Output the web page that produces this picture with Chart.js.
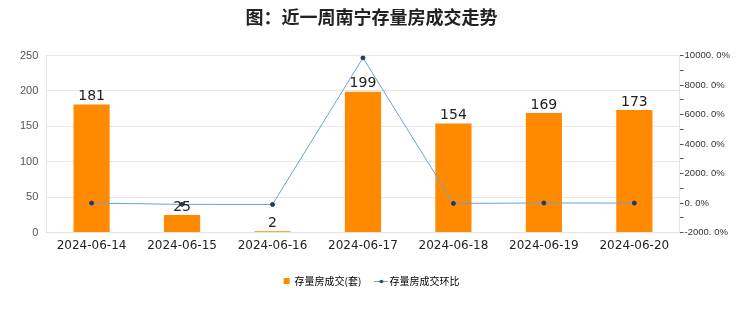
<!DOCTYPE html>
<html>
<head>
<meta charset="utf-8">
<script src="https://cdn.jsdelivr.net/npm/chart.js@4.4.0/dist/chart.umd.min.js"></script>
<style>
  html, body { margin: 0; padding: 0; background: #fff; }
  #wrap { width: 740px; height: 312px; }
</style>
</head>
<body>
<div id="wrap"><canvas id="c" width="740" height="312"></canvas></div>
<script>
const dates = ['2024-06-14', '2024-06-15', '2024-06-16', '2024-06-17', '2024-06-18', '2024-06-19', '2024-06-20'];
const deals = [181, 25, 2, 199, 154, 169, 173];
// 环比, percent
const ratio = [3, -86.2, -92, 9850, -22.6, 9.7, 2.4];

const barLabels = {
    id: 'barLabels',
    afterDatasetsDraw(chart) {
        const ctx = chart.ctx;
        const meta = chart.getDatasetMeta(1);
        ctx.save();
        ctx.font = '14px "DejaVu Sans", sans-serif';
        ctx.fillStyle = '#222';
        ctx.textAlign = 'center';
        ctx.textBaseline = 'bottom';
        meta.data.forEach((bar, i) => {
            ctx.fillText(deals[i], bar.x, bar.y - 1);
        });
        ctx.restore();
    }
};

// line-with-dot legend marker
const lineMarker = document.createElement('canvas');
lineMarker.width = 14;
lineMarker.height = 6;
{
    const g = lineMarker.getContext('2d');
    g.strokeStyle = '#6fa0d6';
    g.lineWidth = 1;
    g.beginPath();
    g.moveTo(0, 3.5);
    g.lineTo(14, 3.5);
    g.stroke();
    g.fillStyle = '#1f3a68';
    g.beginPath();
    g.arc(7, 3.5, 1.8, 0, Math.PI * 2);
    g.fill();
}

new Chart('c', {
    data: {
        labels: dates,
        datasets: [
            {
                type: 'line',
                label: '存量房成交环比',
                data: ratio,
                yAxisID: 'y1',
                borderColor: '#6fa0d6',
                borderWidth: 1,
                pointRadius: 2,
                pointBackgroundColor: '#1f3a68',
                pointBorderColor: '#1f3a68',
                tension: 0,
                order: 0
            },
            {
                type: 'bar',
                label: '存量房成交(套)',
                data: deals,
                yAxisID: 'y',
                backgroundColor: '#ff8a00',
                categoryPercentage: 0.8,
                barPercentage: 0.5,
                order: 1
            }
        ]
    },
    plugins: [barLabels],
    options: {
        responsive: false,
        animation: false,
        layout: {padding: {left: 12, right: 9, top: 0, bottom: 16}},
        plugins: {
            title: {
                display: true,
                text: '图：近一周南宁存量房成交走势',
                color: '#222',
                font: {size: 18, weight: 'bold', family: '"Noto Sans CJK SC", sans-serif'},
                padding: {top: 6, bottom: 28}
            },
            legend: {
                position: 'bottom',
                labels: {
                    usePointStyle: true,
                    color: '#333',
                    font: {size: 10, family: '"Noto Sans CJK SC", sans-serif'},
                    boxWidth: 6,
                    boxHeight: 6,
                    padding: 17,
                    generateLabels(chart) {
                        return [
                            {text: '存量房成交(套)', fillStyle: '#ff8a00', strokeStyle: '#ff8a00', pointStyle: 'rect', lineWidth: 0, datasetIndex: 1},
                            {text: '存量房成交环比', pointStyle: lineMarker, lineWidth: 0, datasetIndex: 0}
                        ];
                    }
                }
            },
            tooltip: {enabled: false}
        },
        scales: {
            x: {
                grid: {display: false, drawTicks: false},
                border: {color: '#e4e4e4'},
                ticks: {color: '#222', font: {size: 12, family: '"DejaVu Sans", sans-serif'}, maxRotation: 0, padding: 6}
            },
            y: {
                position: 'left',
                min: 0,
                max: 250,
                ticks: {stepSize: 50, color: '#555', font: {size: 11, family: '"Liberation Sans", sans-serif'}, padding: 8},
                grid: {color: '#e8e8e8', drawTicks: false},
                border: {color: '#e4e4e4'}
            },
            y1: {
                position: 'right',
                min: -2000,
                max: 10000,
                ticks: {
                    stepSize: 1000,
                    color: '#333',
                    font: {size: 9.5, family: '"Liberation Sans", sans-serif'},
                    padding: 1,
                    callback: v => (v % 2000 === 0 ? v.toFixed(1).replace('.', '. ') + '%' : '')
                },
                grid: {drawOnChartArea: false, color: '#555', tickLength: 4},
                border: {color: '#e4e4e4'}
            }
        }
    }
});
</script>
</body>
</html>
